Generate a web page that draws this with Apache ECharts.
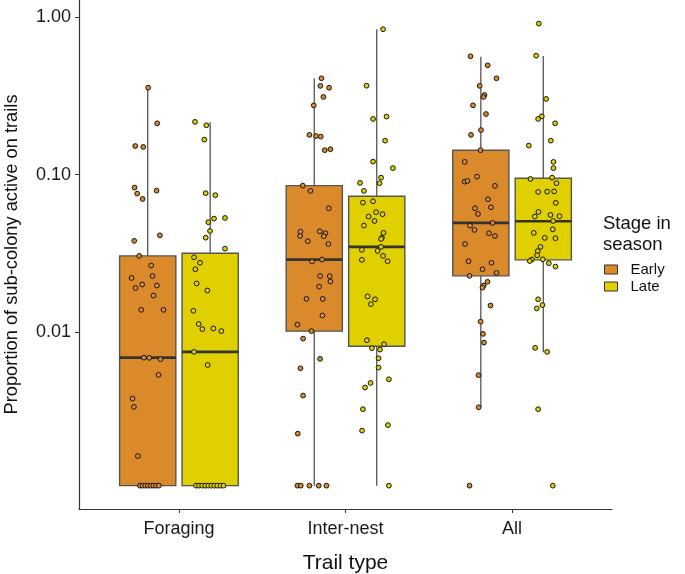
<!DOCTYPE html>
<html><head><meta charset="utf-8">
<script src="https://cdn.jsdelivr.net/npm/echarts@6/dist/echarts.min.js"></script>
<style>html,body{margin:0;padding:0;background:#fff}#c{width:685px;height:574px}</style>
</head><body><div id="c"></div>
<script>
// ---------- data ----------
const categories = ['Foraging', 'Inter-nest', 'All'];
const seasons = ['Early', 'Late'];
const yTickValues = [0.01, 0.1, 1];
const Z = 0.00105; // zero observations as plotted at the bottom

// box stats per category: [lower whisker, Q1, median, Q3, upper whisker]
const earlyBoxes = [
  [Z, Z, 0.00685, 0.0304, 0.3575],
  [Z, 0.0101, 0.0288, 0.0851, 0.410],
  [0.00331, 0.0227, 0.0493, 0.143, 0.563]
];
const lateBoxes = [
  [Z, Z, 0.00745, 0.0316, 0.2155],
  [Z, 0.0081, 0.0347, 0.0729, 0.841],
  [0.00742, 0.0287, 0.0505, 0.0948, 0.569]
];

// jittered observations: [horizontal jitter (category units), proportion]
const foragingEarly = [[0.003,0.3575],[0.057,0.212],[-0.075,0.152],[-0.027,0.150],[-0.079,0.0827],[-0.063,0.0757],[-0.031,0.070],[0.053,0.0791],[0.073,0.0411],[-0.081,0.0379],[-0.051,0.0304],[0.021,0.0264],[-0.097,0.0220],[0.029,0.0226],[-0.073,0.0190],[-0.033,0.0200],[0.055,0.0197],[0.035,0.0170],[-0.039,0.0138],[0.095,0.0138],[-0.023,0.00685],[0.009,0.00683],[0.077,0.0067],[0.065,0.00532],[-0.091,0.00376],[-0.083,0.00333],[-0.059,0.00162],
  [-0.047,Z],[-0.031,Z],[-0.015,Z],[0.001,Z],[0.018,Z],[0.034,Z],[0.050,Z],[0.067,Z]];
const foragingLate = [[-0.091,0.2165],[-0.023,0.206],[-0.035,0.167],[-0.027,0.0762],[0.031,0.0740],[0.089,0.0530],[0.023,0.0525],[-0.011,0.0498],[-0.001,0.0438],[-0.027,0.0397],[0.089,0.0338],[-0.097,0.0298],[-0.061,0.0275],[-0.089,0.0250],[-0.081,0.0203],[-0.017,0.0183],[-0.101,0.0136],[-0.069,0.0112],[-0.047,0.0104],[0.019,0.0105],[0.067,0.0101],[-0.097,0.00745],[-0.015,0.00615],
  [-0.085,Z],[-0.067,Z],[-0.048,Z],[-0.030,Z],[-0.012,Z],[0.007,Z],[0.025,Z],[0.043,Z],[0.062,Z],[0.080,Z]];
const internestEarly = [[0.043,0.410],[0.037,0.367],[0.089,0.357],[0.055,0.312],[-0.003,0.276],[-0.029,0.179],[0.011,0.176],[0.039,0.1745],[0.063,0.143],[0.097,0.145],[-0.069,0.0851],[-0.023,0.0788],[0.087,0.0611],[-0.083,0.0434],[-0.085,0.0407],[0.033,0.0436],[0.067,0.0424],[0.057,0.0406],[-0.039,0.0377],[0.085,0.0362],[-0.013,0.0280],[0.047,0.0288],[0.035,0.0226],[0.093,0.0226],[0.097,0.0209],[0.029,0.0194],[-0.047,0.0162],[0.051,0.0162],[0.049,0.0127],[-0.101,0.0111],[-0.017,0.0101],[-0.067,0.00905],[0.035,0.00673],[-0.083,0.00586],[-0.067,0.00393],[-0.099,0.00225],
  [-0.101,Z],[-0.081,Z],[-0.029,Z],[0.027,Z],[0.073,Z]];
const internestLate = [[0.038,0.841],[-0.061,0.368],[-0.022,0.226],[0.059,0.234],[0.050,0.1645],[-0.022,0.121],[0.097,0.110],[0.026,0.0957],[-0.100,0.0886],[0.017,0.0882],[-0.077,0.0788],[-0.083,0.0664],[-0.022,0.0677],[-0.004,0.0577],[0.035,0.0560],[-0.049,0.0541],[-0.013,0.0507],[-0.077,0.0474],[0.041,0.0426],[0.031,0.0396],[0.026,0.0390],[0.026,0.0347],[-0.089,0.0332],[0.005,0.0327],[0.038,0.0304],[-0.089,0.0287],[0.065,0.0281],[-0.055,0.0168],[-0.010,0.0161],[-0.035,0.0150],[-0.059,0.00884],[0.044,0.00834],[-0.029,0.00787],[0.020,0.00771],[0.011,0.00679],[0.011,0.00592],[0.073,0.00499],[-0.037,0.00473],[-0.070,0.00442],[-0.083,0.00322],[0.067,0.00255],[-0.088,0.00235],
  [0.073,Z]];
const allEarly = [[-0.062,0.566],[0.041,0.496],[0.094,0.410],[-0.007,0.367],[0.022,0.321],[0.016,0.312],[-0.047,0.276],[0.031,0.243],[0.001,0.192],[-0.059,0.179],[-0.002,0.143],[-0.097,0.1205],[-0.023,0.0971],[-0.097,0.0902],[-0.080,0.0912],[0.085,0.0848],[0.043,0.0697],[-0.035,0.0611],[0.061,0.0620],[-0.017,0.0562],[0.071,0.0493],[-0.065,0.0474],[-0.038,0.0445],[0.049,0.0424],[0.085,0.0407],[-0.095,0.0362],[-0.074,0.0281],[0.064,0.0275],[0.010,0.0250],[0.094,0.0237],[-0.068,0.0227],[0.040,0.0208],[0.017,0.0197],[0.010,0.0191],[0.058,0.0147],[-0.001,0.0116],[0.013,0.0097],[0.019,0.00854],[-0.014,0.00530],[-0.013,0.00331],
  [-0.068,Z]];
const allLate = [[-0.027,0.914],[-0.043,0.571],[0.017,0.303],[-0.009,0.235],[-0.031,0.226],[0.071,0.212],[0.045,0.1645],[-0.087,0.153],[0.061,0.1205],[0.061,0.110],[0.053,0.0957],[-0.077,0.0939],[0.079,0.0882],[-0.031,0.0776],[0.023,0.0779],[0.065,0.0782],[0.075,0.0661],[-0.029,0.0579],[-0.051,0.0541],[0.043,0.0554],[0.097,0.0544],[0.059,0.0507],[-0.057,0.0426],[0.057,0.0449],[0.009,0.0396],[0.073,0.0394],[-0.017,0.0347],[-0.033,0.0326],[-0.037,0.0307],[-0.069,0.0288],[-0.081,0.0282],[-0.003,0.0289],[0.033,0.0273],[0.073,0.0260],[-0.031,0.0161],[-0.005,0.0148],[-0.039,0.0141],[-0.049,0.00791],[0.023,0.00745],[-0.031,0.00322],
  [0.057,Z]];

const earlyPoints = [foragingEarly, internestEarly, allEarly];
const latePoints = [foragingLate, internestLate, allLate];

// ---------- styling ----------
const FONT = 'Liberation Sans, Arial, Helvetica, sans-serif';
const COLORS = {Early: '#DA8A2B', Late: '#E0D000'};
const DODGE = 0.1875;
const BOX_W = 0.3375;

function boxSeries(name, boxes, side) {
  return {
    type: 'custom', name: name, z: 2, silent: true,
    itemStyle: {color: COLORS[name]},
    data: boxes.map((b, i) => [i + 1 + side * DODGE].concat(b)),
    encode: {x: 0, y: [1, 2, 3, 4, 5]},
    renderItem: function (params, api) {
      const x = api.value(0);
      const pMin = api.coord([x, api.value(1)]);
      const pQ1 = api.coord([x, api.value(2)]);
      const pMed = api.coord([x, api.value(3)]);
      const pQ3 = api.coord([x, api.value(4)]);
      const pMax = api.coord([x, api.value(5)]);
      const left = api.coord([x - BOX_W / 2, api.value(3)])[0];
      const right = api.coord([x + BOX_W / 2, api.value(3)])[0];
      return {
        type: 'group',
        children: [
          {type: 'line', shape: {x1: pMin[0], y1: pMin[1], x2: pMax[0], y2: pMax[1]},
           style: {stroke: '#555', lineWidth: 1.3}},
          {type: 'rect', shape: {x: left, y: pQ3[1], width: right - left, height: pQ1[1] - pQ3[1]},
           style: {fill: COLORS[name], stroke: '#555', lineWidth: 1.4}},
          {type: 'line', shape: {x1: left, y1: pMed[1], x2: right, y2: pMed[1]},
           style: {stroke: '#333', lineWidth: 2.6}}
        ]
      };
    }
  };
}

function pointSeries(name, groups, side) {
  const data = [];
  groups.forEach((pts, i) => pts.forEach(p => data.push([i + 1 + side * DODGE + p[0], p[1]])));
  return {
    type: 'scatter', name: name, z: 3, silent: true,
    symbol: 'circle', symbolSize: 4.8,
    itemStyle: {color: COLORS[name], borderColor: '#151515', borderWidth: 1, opacity: 1},
    data: data
  };
}

const chart = echarts.init(document.getElementById('c'), null, {renderer: 'canvas'});
chart.setOption({
  animation: false,
  backgroundColor: '#fff',
  grid: {left: 79, right: 73, top: 0, bottom: 65, outerBoundsMode: 'none', containLabel: false},
  title: {
    text: 'Stage in\nseason', left: 603, top: 213, padding: 0,
    textStyle: {fontFamily: FONT, fontSize: 18.5, fontWeight: 'normal', color: '#111', lineHeight: 21}
  },
  legend: {
    orient: 'vertical', left: 604, top: 262, padding: 0,
    data: seasons.map(s => ({name: s})),
    icon: 'rect', itemWidth: 13, itemHeight: 9, itemGap: 2,
    itemStyle: {borderColor: '#333', borderWidth: 1},
    textStyle: {fontFamily: FONT, fontSize: 15, color: '#111', padding: [0, 0, 0, 8]},
    selectedMode: false
  },
  xAxis: {
    type: 'value', min: 0.4, max: 3.6,
    splitLine: {show: false},
    axisLine: {show: true, lineStyle: {color: '#333', width: 1.2}},
    axisTick: {show: true, customValues: [1, 2, 3], length: 4, lineStyle: {color: '#333'}},
    axisLabel: {customValues: [1, 2, 3], formatter: v => categories[Math.round(v) - 1],
                fontFamily: FONT, fontSize: 18, color: '#1a1a1a', margin: 11},
    name: 'Trail type', nameLocation: 'middle', nameGap: 44,
    nameTextStyle: {fontFamily: FONT, fontSize: 21, color: '#111'}
  },
  yAxis: {
    type: 'log', logBase: 10, min: 0.000746, max: 1.291,
    splitLine: {show: false},
    axisLine: {show: true, lineStyle: {color: '#333', width: 1.2}},
    axisTick: {show: true, customValues: yTickValues, length: 4, lineStyle: {color: '#333'}},
    axisLabel: {customValues: yTickValues, formatter: v => Number(v).toFixed(2),
                fontFamily: FONT, fontSize: 18, color: '#1a1a1a', margin: 8},
    name: 'Proportion of sub-colony active on trails', nameLocation: 'middle', nameGap: 58,
    nameTextStyle: {fontFamily: FONT, fontSize: 18.3, color: '#111'}
  },
  series: [
    boxSeries('Early', earlyBoxes, -1),
    boxSeries('Late', lateBoxes, 1),
    pointSeries('Early', earlyPoints, -1),
    pointSeries('Late', latePoints, 1)
  ]
});
</script>
</body></html>
